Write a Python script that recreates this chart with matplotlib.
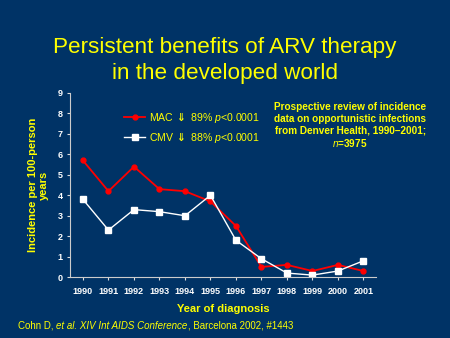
import matplotlib.pyplot as plt

years = [1990, 1991, 1992, 1993, 1994, 1995, 1996, 1997, 1998, 1999, 2000, 2001]
mac = [5.7, 4.2, 5.4, 4.3, 4.2, 3.7, 2.5, 0.5, 0.6, 0.3, 0.6, 0.3]
cmv = [3.8, 2.3, 3.3, 3.2, 3.0, 4.0, 1.8, 0.9, 0.2, 0.1, 0.3, 0.8]

bg = '#003366'
yellow = '#FFFF00'
plt.rcParams['font.family'] = ['Liberation Sans', 'DejaVu Sans']
plt.rcParams['mathtext.fontset'] = 'custom'
plt.rcParams['mathtext.it'] = 'Liberation Sans:italic'
plt.rcParams['mathtext.rm'] = 'Liberation Sans'

fig = plt.figure(figsize=(4.5, 3.38), dpi=100, facecolor=bg)
ax = fig.add_axes([0.156, 0.180, 0.68, 0.545], facecolor=bg)

ax.plot(years, mac, color='#FF0000', lw=1.3, marker='o', ms=3.5,
        label='MAC $\\mathbf{\\Downarrow}$ 89% $\\it{p}$<0.0001')
ax.plot(years, cmv, color='white', lw=1.0, marker='s', ms=4,
        mfc='white', mec='white', label='CMV $\\mathbf{\\Downarrow}$ 88% $\\it{p}$<0.0001')

ax.set_xlim(1989.5, 2001.5)
ax.set_ylim(0, 9)
ax.set_yticks(range(10))
ax.set_xticks(years)
ax.tick_params(colors='#DDDDDD', labelcolor='white', labelsize=6.5, length=2)
ax.tick_params(axis='x', pad=5)
for lab in ax.get_xticklabels() + ax.get_yticklabels():
    lab.set_fontweight('bold')
for s in ['top', 'right']:
    ax.spines[s].set_visible(False)
for s in ['left', 'bottom']:
    ax.spines[s].set_color('#CCCCCC')

ax.set_xlabel('Year of diagnosis', color=yellow, fontsize=8, fontweight='bold', labelpad=6)
ax.set_ylabel('Incidence per 100-person\nyears', color=yellow, fontsize=8,
              fontweight='bold', labelpad=6)

leg = ax.legend(loc='upper left', bbox_to_anchor=(0.145, 0.96), frameon=False,
                fontsize=7.6, handlelength=2.0, labelspacing=0.5, handletextpad=0.4)
for t in leg.get_texts():
    t.set_color(yellow)

fig.text(0.5, 0.822, 'Persistent benefits of ARV therapy\nin the developed world',
         color=yellow, fontsize=16.2, ha='center', va='center', linespacing=1.3)
fig.text(0.778, 0.628, 'Prospective review of incidence\ndata on opportunistic infections\n'
         'from Denver Health, 1990\u20132001;\n$\\it{n}$=3975',
         color=yellow, fontsize=7.2, fontweight='bold', ha='center', va='center')

# citation line: plain and italic pieces placed one after another
fig.canvas.draw()
r = fig.canvas.get_renderer()
x = 0.04
for txt, style in [('Cohn D, ', 'normal'),
                   ('et al. XIV Int AIDS Conference', 'italic'),
                   (', Barcelona 2002, #1443', 'normal')]:
    t = fig.text(x, 0.036, txt, color=yellow, fontsize=7, style=style,
                 ha='left', va='center')
    x += t.get_window_extent(r).width / fig.bbox.width

fig.savefig('out.png', dpi=100, facecolor=bg)
